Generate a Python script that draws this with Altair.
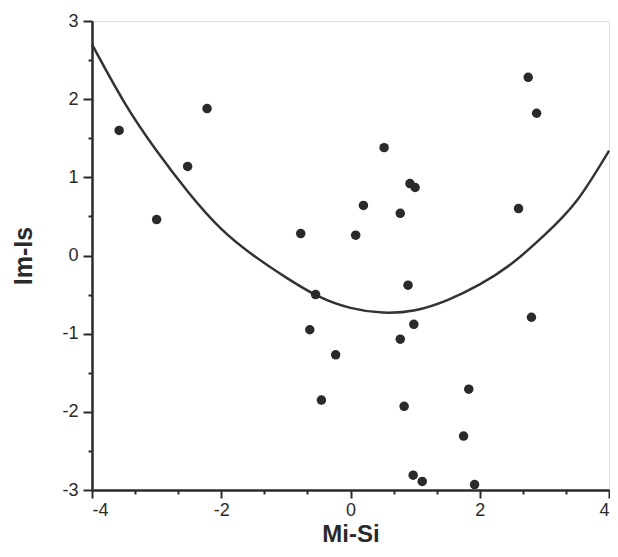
import altair as alt
import pandas as pd

# scatter points (Mi-Si, Im-Is)
pt_x = [-3.58, -3.00, -2.52, -2.22, -0.77, 0.08, 0.20, 0.52, 0.92, 1.00, 0.77,
        2.60, 2.75, 2.88, -0.54, 0.89, -0.63, 0.98, 0.77, -0.23, 2.80, -0.45,
        1.83, 0.83, 1.75, 0.97, 1.11, 1.92]
pt_y = [1.60, 0.46, 1.14, 1.88, 0.28, 0.26, 0.64, 1.38, 0.92, 0.87, 0.54,
        0.60, 2.28, 1.82, -0.50, -0.38, -0.95, -0.88, -1.07, -1.27, -0.79, -1.85,
        -1.71, -1.93, -2.31, -2.81, -2.89, -2.93]

# fitted curve
curve_x = [-4.0, -3.5, -3.0, -2.5, -2.0, -1.5, -1.0, -0.5, 0.0, 0.5, 1.0,
           1.5, 2.0, 2.5, 3.0, 3.5, 4.0]
curve_y = [2.70, 1.96, 1.34, 0.80, 0.34, 0.00, -0.28, -0.52, -0.67, -0.73, -0.70,
           -0.57, -0.37, -0.10, 0.26, 0.70, 1.34]

x_major = [-4, -2, 0, 2, 4]
x_minor = [-3.333, -2.667, -1.333, -0.667, 0.667, 1.333, 2.667, 3.333]
y_major = [-3, -2, -1, 0, 1, 2, 3]
y_minor = [-2.5, -1.5, -0.5, 0.5, 1.5, 2.5]

pts = pd.DataFrame({"x": pt_x, "y": pt_y})
crv = pd.DataFrame({"x": curve_x, "y": curve_y})

FONT = "Liberation Sans"
INK = "#2a2a2a"

xs = alt.Scale(domain=[-4, 4], nice=False, zero=False)
ys = alt.Scale(domain=[-3, 3], nice=False, zero=False)

x_axis = alt.Axis(values=x_major, title="Mi-Si", orient="bottom", grid=False,
                  tickSize=8, tickWidth=2, tickColor=INK, domainWidth=2, domainColor=INK,
                  labelExpr="'' + datum.value", labelFont=FONT, labelFontSize=18,
                  labelColor=INK, labelPadding=3, titleFont=FONT, titleFontSize=24,
                  titleFontWeight="bold", titleColor=INK, titleBaseline="alphabetic",
                  titleY=51)
y_axis = alt.Axis(values=y_major, title="Im-Is", orient="left", grid=False,
                  tickSize=9, tickWidth=2, tickColor=INK, domainWidth=2, domainColor=INK,
                  labelExpr="'' + datum.value", labelFont=FONT, labelFontSize=18,
                  labelColor=INK, labelPadding=5, titleFont=FONT, titleFontSize=25,
                  titleFontWeight="bold", titleColor=INK, titlePadding=25)

x_axis_minor = alt.Axis(values=x_minor, title="", orient="bottom", grid=False, labels=False,
                        tickSize=4, tickWidth=2, tickColor=INK, domainWidth=2, domainColor=INK)
y_axis_minor = alt.Axis(values=y_minor, title="", orient="left", grid=False, labels=False,
                        tickSize=4, tickWidth=2, tickColor=INK, domainWidth=2, domainColor=INK)

points = alt.Chart(pts).mark_point(filled=True, size=90, color=INK, opacity=1).encode(
    x=alt.X("x:Q", scale=xs, axis=x_axis),
    y=alt.Y("y:Q", scale=ys, axis=y_axis),
)

line = alt.Chart(crv).mark_line(color="#333333", strokeWidth=2.5, interpolate="natural").encode(
    x=alt.X("x:Q", scale=xs, axis=x_axis_minor),
    y=alt.Y("y:Q", scale=ys, axis=y_axis_minor),
)

chart = alt.layer(line, points).resolve_axis(x="independent", y="independent").properties(
    width=517, height=469,
    autosize=alt.AutoSizeParams(type="none"),
    padding={"left": 84, "top": 13, "right": 1, "bottom": 56},
).configure_view(stroke="#444444", strokeWidth=1.5).configure(background="white")

chart.save("out.html", embed_options={"renderer": "svg", "actions": False})
